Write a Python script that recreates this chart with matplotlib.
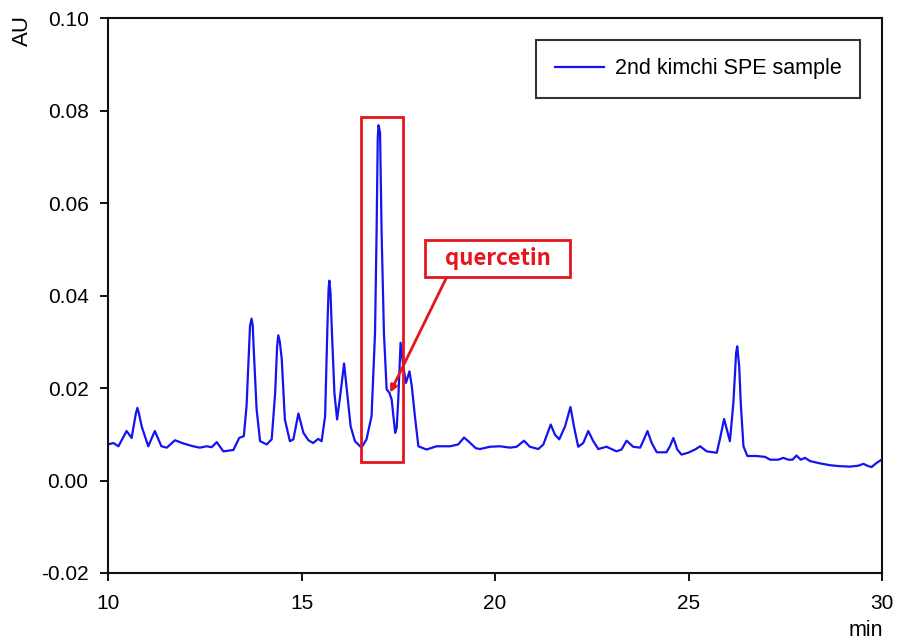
import matplotlib
matplotlib.use("Agg")
import matplotlib.pyplot as plt
from matplotlib.patches import Rectangle

plt.rcParams['font.family'] = ['Liberation Sans', 'DejaVu Sans']

# Retention time (min) and absorbance (AU)
time_min = [
    10.00, 10.14, 10.27, 10.48, 10.61, 10.72, 10.76, 10.80, 10.87, 11.04, 11.21, 11.38,
    11.52, 11.73, 11.95, 12.20, 12.37, 12.55, 12.68, 12.81, 12.98, 13.24,
    13.39, 13.51, 13.58, 13.63, 13.67, 13.71, 13.74, 13.77, 13.84, 13.93, 14.10, 14.23,
    14.32, 14.37, 14.40, 14.44, 14.49, 14.57, 14.70, 14.79, 14.92, 15.05, 15.18, 15.30,
    15.43, 15.52, 15.61, 15.67, 15.70, 15.72, 15.75, 15.78, 15.85, 15.92, 16.01, 16.10,
    16.18, 16.27, 16.38, 16.55, 16.68, 16.81, 16.90, 16.94, 16.97, 16.99, 17.03,
    17.07, 17.13, 17.20, 17.27, 17.33, 17.42, 17.46, 17.50, 17.56, 17.63,
    17.70, 17.79, 17.85, 17.93, 18.02, 18.23, 18.49, 18.84, 19.05, 19.20,
    19.35, 19.50, 19.61, 19.87, 20.13, 20.39, 20.56, 20.75, 20.90, 21.12,
    21.25, 21.44, 21.55, 21.66, 21.81, 21.95, 22.04, 22.15, 22.28, 22.41,
    22.54, 22.67, 22.88, 23.14, 23.27, 23.40, 23.57, 23.75, 23.85, 23.94,
    24.05, 24.18, 24.43, 24.52, 24.61, 24.71, 24.82, 24.99, 25.17, 25.30,
    25.47, 25.73, 25.81, 25.92, 26.00, 26.07, 26.16, 26.23, 26.26, 26.31,
    26.35, 26.42, 26.52, 26.76, 26.98, 27.11, 27.32, 27.45, 27.58, 27.69,
    27.79, 27.90, 28.01, 28.14, 28.40, 28.66, 28.91, 29.17, 29.39, 29.52,
    29.62, 29.73, 29.86, 29.99,
]
absorbance_au = [
    0.0078, 0.0081, 0.0074, 0.0107, 0.0092, 0.0145, 0.0157, 0.0145, 0.0117, 0.0074, 0.0107, 0.0074,
    0.0071, 0.0087, 0.0080, 0.0074, 0.0071, 0.0074, 0.0072, 0.0083, 0.0063, 0.0066,
    0.0092, 0.0096, 0.0161, 0.0260, 0.0334, 0.0350, 0.0335, 0.0276, 0.0154, 0.0085, 0.0078, 0.0089,
    0.0190, 0.0290, 0.0314, 0.0300, 0.0262, 0.0132, 0.0085, 0.0089, 0.0145, 0.0103, 0.0087, 0.0081,
    0.0090, 0.0085, 0.0139, 0.0334, 0.0415, 0.0432, 0.0405, 0.0334, 0.0190, 0.0132, 0.0190, 0.0253,
    0.0190, 0.0117, 0.0085, 0.0071, 0.0089, 0.0139, 0.0319, 0.0536, 0.0740, 0.0768, 0.0752,
    0.0536, 0.0319, 0.0197, 0.0190, 0.0175, 0.0103, 0.0114, 0.0175, 0.0298, 0.0247,
    0.0211, 0.0236, 0.0204, 0.0139, 0.0074, 0.0067, 0.0074, 0.0074, 0.0078, 0.0093,
    0.0082, 0.0070, 0.0068, 0.0073, 0.0074, 0.0071, 0.0073, 0.0086, 0.0073, 0.0068,
    0.0078, 0.0121, 0.0099, 0.0089, 0.0117, 0.0159, 0.0117, 0.0073, 0.0081, 0.0107,
    0.0085, 0.0068, 0.0073, 0.0063, 0.0067, 0.0086, 0.0073, 0.0071, 0.0089, 0.0107,
    0.0081, 0.0061, 0.0061, 0.0074, 0.0092, 0.0067, 0.0056, 0.0060, 0.0067, 0.0074,
    0.0063, 0.0060, 0.0089, 0.0133, 0.0107, 0.0085, 0.0168, 0.0276, 0.0290, 0.0247,
    0.0168, 0.0074, 0.0053, 0.0053, 0.0051, 0.0045, 0.0045, 0.0049, 0.0045, 0.0045,
    0.0054, 0.0045, 0.0049, 0.0042, 0.0037, 0.0033, 0.0031, 0.0030, 0.0032, 0.0036,
    0.0032, 0.0029, 0.0038, 0.0045,
]

series_label = "2nd kimchi SPE sample"
annotation_text = "quercetin"
x_ticks = [10, 15, 20, 25, 30]
y_ticks = [-0.02, 0.00, 0.02, 0.04, 0.06, 0.08, 0.10]
y_tick_labels = ["-0.02", "0.00", "0.02", "0.04", "0.06", "0.08", "0.10"]

RED = "#e8141c"

fig = plt.figure(figsize=(8.98, 6.43), dpi=100)
ax = fig.add_axes([108 / 898, 70 / 643, 774 / 898, 555 / 643])

ax.plot(time_min, absorbance_au, color="#1414f0", lw=1.6, label=series_label,
        solid_joinstyle="round")

ax.set_xlim(10, 30)
ax.set_ylim(-0.02, 0.10)
ax.set_xticks(x_ticks)
ax.set_yticks(y_ticks)
ax.set_yticklabels(y_tick_labels)
ax.tick_params(direction="out", length=6, width=1.3, labelsize=15, colors="black",
               top=False, right=False)
ax.tick_params(axis="x", pad=9)
ax.tick_params(axis="y", pad=8)
for s in ax.spines.values():
    s.set_linewidth(1.5)
    s.set_color("#111111")

fig.text(22 / 898, 1 - 31 / 643, "AU", rotation=90, fontsize=16, ha="center", va="center")
fig.text(866 / 898, 1 - 630 / 643, "min", fontsize=15.5, ha="center", va="center")

leg = ax.legend(loc="upper right", bbox_to_anchor=(1 - 22 / 774, 1 - 22 / 555),
                fontsize=15.5, frameon=True, fancybox=False, borderpad=0.85,
                handlelength=2.3, handletextpad=0.5, borderaxespad=0)
leg.get_frame().set_edgecolor("black")
leg.get_frame().set_linewidth(1.5)

# red highlight box around the quercetin region
ax.add_patch(Rectangle((16.54, 0.0041), 17.62 - 16.54, 0.0787 - 0.0041,
                       fill=False, edgecolor=RED, lw=2.0, zorder=5))

ax.annotate("", xy=(17.29, 0.0190), xytext=(18.76, 0.0441),
            arrowprops=dict(arrowstyle="-|>", color=RED, lw=2.0,
                            mutation_scale=10, shrinkA=0, shrinkB=0))
ax.add_patch(Rectangle((18.19, 0.0441), 21.94 - 18.19, 0.0521 - 0.0441,
                       facecolor="white", edgecolor=RED, lw=2.0, zorder=5))
ax.text(20.07, 0.0480, annotation_text, color=RED, fontsize=16, fontweight="bold",
        family=["Noto Sans CJK KR", "DejaVu Sans"], ha="center", va="center", zorder=6)

fig.savefig("out.png", dpi=100)
